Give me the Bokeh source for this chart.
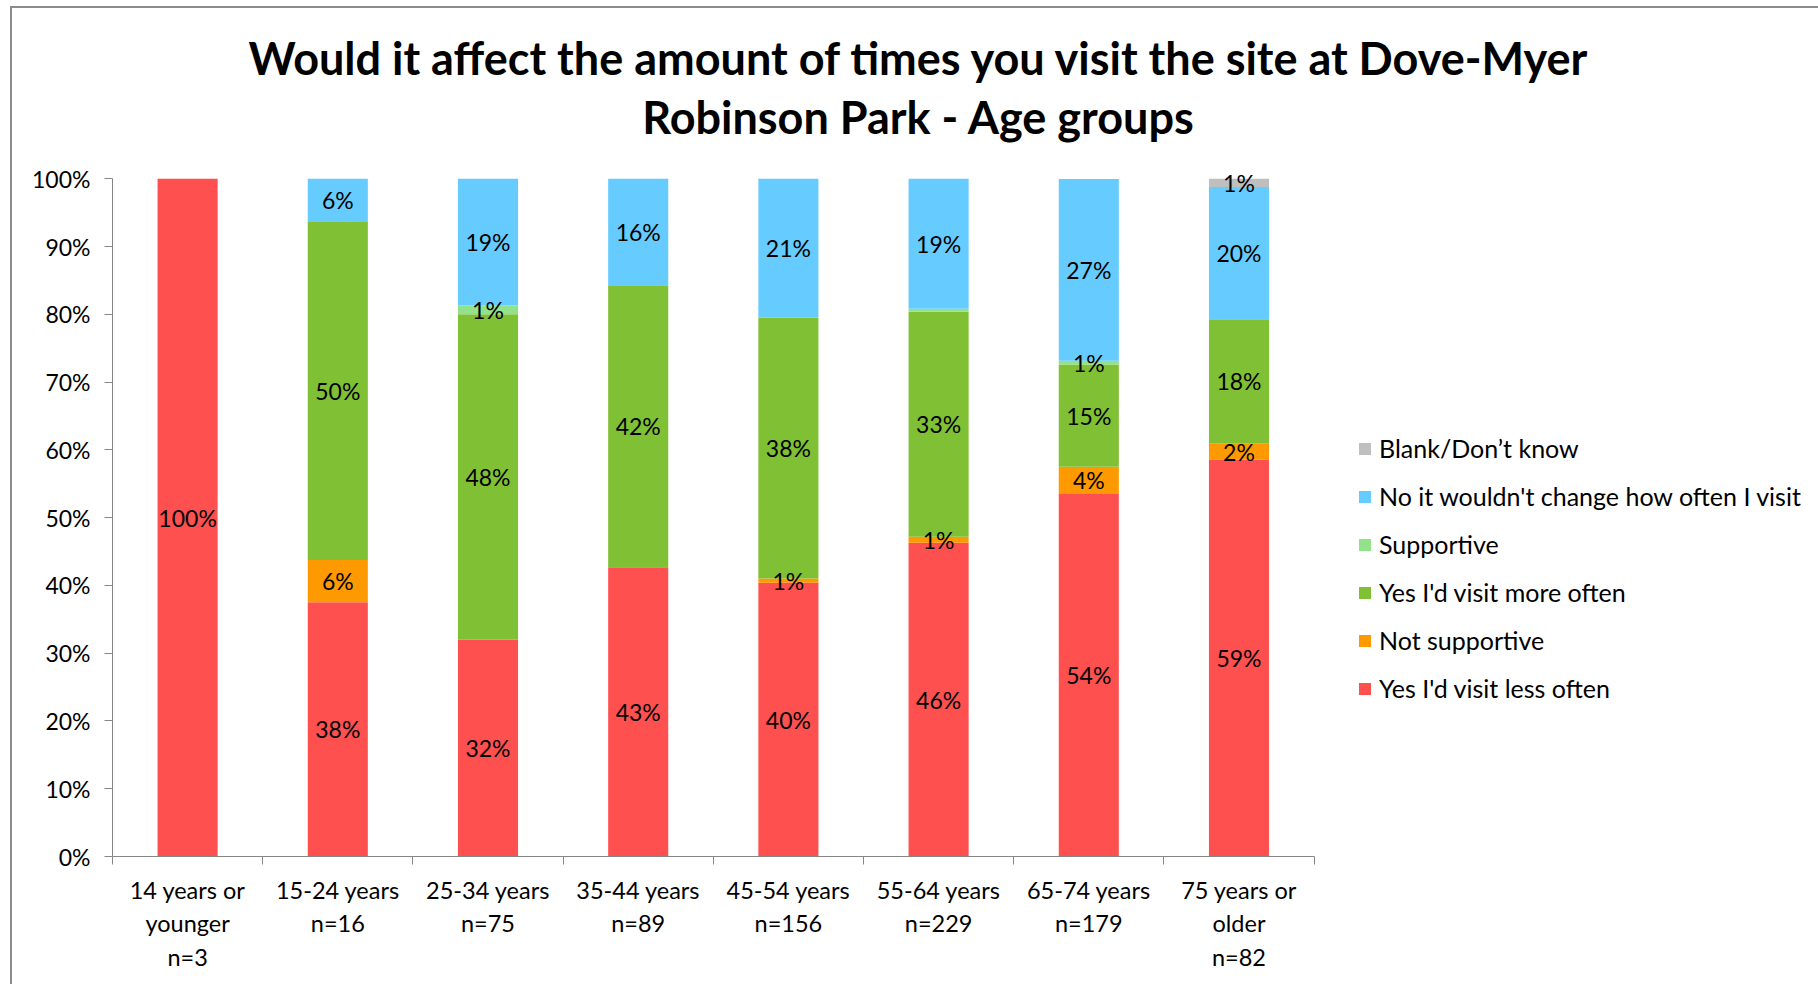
from bokeh.plotting import figure
from bokeh.models import (ColumnDataSource, FixedTicker, NumeralTickFormatter, Legend,
                          LegendItem, Range1d, Div)
from bokeh.layouts import column
from bokeh.core.properties import value
from bokeh.embed import file_html
from bokeh.resources import INLINE

# ---------------- data ----------------
categories = ["14 years or\nyounger\nn=3", "15-24 years\nn=16", "25-34 years\nn=75",
              "35-44 years\nn=89", "45-54 years\nn=156", "55-64 years\nn=229",
              "65-74 years\nn=179", "75 years or\nolder\nn=82"]

less_often     = [100.0, 37.5, 32.0, 42.7, 40.4, 46.3, 53.6, 58.54]
not_supportive = [0.0, 6.25, 0.0, 0.0, 0.64, 0.87, 3.9, 2.44]
more_often     = [0.0, 50.0, 48.0, 41.6, 38.46, 33.2, 15.1, 18.29]
supportive     = [0.0, 0.0, 1.3, 0.0, 0.0, 0.44, 0.56, 0.0]
no_change      = [0.0, 6.25, 18.7, 15.7, 20.51, 19.2, 26.8, 19.51]
blank          = [0.0, 0.0, 0.0, 0.0, 0.0, 0.0, 0.0, 1.22]

series_names = ["Yes I'd visit less often", "Not supportive", "Yes I'd visit more often",
                "Supportive", "No it wouldn't change how often I visit", "Blank/Don\u2019t know"]
series_values = [less_often, not_supportive, more_often, supportive, no_change, blank]
colors = ["#FF5050", "#FF9900", "#80C034", "#92E28C", "#66CCFF", "#BFBFBF"]

title_lines = ["Would it affect the amount of times you visit the site at Dove-Myer",
               "Robinson Park - Age groups"]
y_ticks = [i / 10 for i in range(11)]

FONT = "Lato"
FS = "23px"
AXIS_COLOR = "#868686"
BORDER_COLOR = "#8c8c8c"

# ---------------- title + chart border ----------------
TITLE_H = 140
title = Div(text=('<div style="position:absolute;left:10px;top:6px;width:1808px;height:978px;'
                  'box-sizing:border-box;border-left:2px solid %s;border-top:2px solid %s;'
                  'pointer-events:none;"></div>'
                  '<div style="width:1818px;box-sizing:border-box;'
                  'padding-top:29px;padding-left:18px;text-align:center;font-family:Lato;'
                  'font-weight:bold;font-size:45px;line-height:59px;color:#000;">%s<br>%s</div>'
                  % (BORDER_COLOR, BORDER_COLOR, title_lines[0], title_lines[1])),
            width=1818, height=TITLE_H, margin=0)

# ---------------- figure ----------------
W, H = 1818, 984 - TITLE_H
n = len(categories)
LEFT = 112
CAT_PX = 150.2  # pixel width of one category slot
x_end = (W - LEFT) / CAT_PX  # frame extends under the legend; axis is bounded to categories
Y_TOP = 1.03                 # headroom so labels at the very top are not clipped
p = figure(width=W, height=H, x_range=Range1d(0, x_end), y_range=Range1d(0, Y_TOP),
           output_backend="svg", toolbar_location=None, margin=0,
           min_border_left=LEFT, min_border_right=0, min_border_top=18,
           min_border_bottom=128)
p.title.visible = False
p.outline_line_color = None
p.xgrid.visible = False
p.ygrid.visible = False
p.border_fill_color = None
p.background_fill_color = None

xs = [i + 0.5 for i in range(n)]
data = {"x": xs}
keys = []
for i, vals in enumerate(series_values):
    k = f"s{i}"
    keys.append(k)
    data[k] = [v / 100 for v in vals]
src = ColumnDataSource(data)

renderers = p.vbar_stack(keys, x="x", width=0.4, source=src, color=colors, line_color=None)

# data labels
lx, ly, lt = [], [], []
for j in range(n):
    base = 0.0
    for vals in series_values:
        v = vals[j] / 100
        if vals[j] >= 0.5:
            lx.append(xs[j])
            ly.append(base + v / 2)
            lt.append(f"{round(vals[j])}%")
        base += v
p.text(x=lx, y=ly, text=lt, text_align="center", text_baseline="middle",
       text_font=value(FONT), text_font_size=FS, text_color="#000000")

# x axis
xa = p.xaxis[0]
xa.bounds = (0, n)
xa.ticker = FixedTicker(ticks=xs, minor_ticks=list(range(n + 1)))
xa.major_label_overrides = {xs[i]: categories[i] for i in range(n)}
xa.major_tick_line_color = None
xa.major_tick_out = 0
xa.major_tick_in = 0
xa.minor_tick_line_color = AXIS_COLOR
xa.minor_tick_out = 8
xa.minor_tick_in = 0
xa.axis_line_color = AXIS_COLOR
xa.major_label_standoff = 11
xa.major_label_text_font = FONT
xa.major_label_text_font_size = "23.5px"
xa.major_label_text_color = "#000000"

# y axis
ya = p.yaxis[0]
ya.bounds = (0, 1)
ya.ticker = FixedTicker(ticks=y_ticks)
ya.formatter = NumeralTickFormatter(format="0%")
ya.major_tick_out = 8
ya.major_tick_in = 0
ya.minor_tick_line_color = None
ya.axis_line_color = AXIS_COLOR
ya.major_tick_line_color = AXIS_COLOR
ya.major_label_standoff = 14
ya.major_label_text_font = FONT
ya.major_label_text_font_size = FS
ya.major_label_text_color = "#000000"

# legend (inside the wide frame, to the right of the bounded axis)
items = [LegendItem(label=series_names[i], renderers=[renderers[i]]) for i in reversed(range(6))]
legend = Legend(items=items, location=(1245, 153), orientation="vertical",
                glyph_width=15, glyph_height=15, label_height=28, spacing=18,
                padding=0, margin=0, border_line_color=None, background_fill_alpha=0,
                label_text_font=FONT, label_text_font_size="25px", label_standoff=7,
                label_text_color="#000000")
p.add_layout(legend, "center")

layout = column(title, p, spacing=0)
open("out.html", "w").write(file_html(layout, INLINE))
